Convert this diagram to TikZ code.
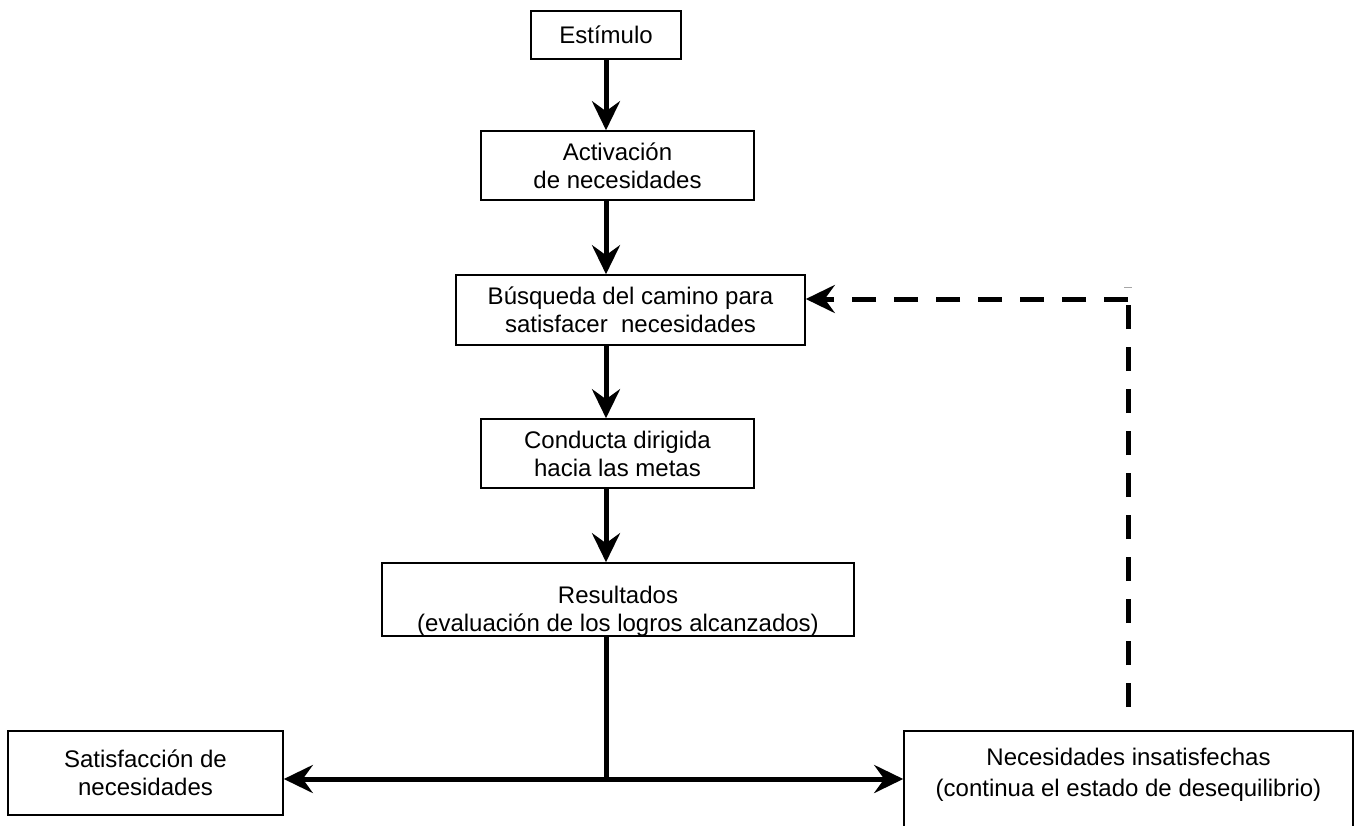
\documentclass[tikz,border=0pt]{standalone}
\usepackage{fontspec}
\setmainfont{Liberation Sans}
\usetikzlibrary{arrows.meta}
\begin{document}
\begin{tikzpicture}[x=1pt,y=-1pt,
  box/.style={draw, line width=1.6pt, inner sep=0pt, align=center, font=\fontsize{24}{28}\selectfont},
  txt/.style={inner sep=0pt, anchor=base, font=\fontsize{24}{28}\selectfont},
  arr/.style={line width=5pt, -{Stealth[length=29pt,width=28pt,inset=10pt]}},
  dsh/.style={line width=5pt, dash pattern=on 24pt off 18pt}]
\useasboundingbox (0,0) rectangle (1354,825);
\clip (0,0) rectangle (1354,825);

\node[box, minimum width=150pt, minimum height=48pt] (estim) at (606,35) {Estímulo};
\node[box, minimum width=273pt, minimum height=69pt] (activ) at (617.5,165.5) {Activación\\de necesidades};
\node[box, minimum width=349pt, minimum height=70pt] (busq) at (630.5,310) {Búsqueda del camino para\\satisfacer\ \ necesidades};
\node[box, minimum width=273pt, minimum height=69pt] (cond) at (617.5,453.5) {Conducta dirigida\\hacia las metas};
\node[box, minimum width=472pt, minimum height=73pt] (result) at (618,599.5) {};
\node[box, minimum width=275pt, minimum height=84pt] (satis) at (145.5,773) {Satisfacción de\\necesidades};
\node[box, minimum width=449pt, minimum height=119pt] (necs) at (1128.5,790.5) {};

\begin{scope}
\clip (result.north west) rectangle (result.south east);
\node[txt] (resl1) at (618,603) {Resultados};
\node[txt] (resl2) at (618,631) {(evaluación de los logros alcanzados)};
\end{scope}
\node[txt] (necl1) at (1128.5,765) {Necesidades insatisfechas};
\node[txt] (necl2) at (1128.5,796) {(continua el estado de desequilibrio)};

\draw[arr] (estim.south) -- (estim.south |- activ.north);
\draw[arr] (estim.south |- activ.south) -- (estim.south |- busq.north);
\draw[arr] (estim.south |- busq.south) -- (estim.south |- cond.north);
\draw[arr] (estim.south |- cond.south) -- (estim.south |- result.north);
\coordinate (junc) at (606,779);
\draw[line width=5pt] (estim.south |- result.south) -- (junc);
\draw[arr] (junc) -- (junc -| satis.east);
\draw[arr] (junc) -- (junc -| necs.west);

\coordinate (dend) at (1128,707);
\coordinate (corner) at (1128,299);
\draw[dsh] (dend) -- (corner);
\draw[dsh, arr] (corner) -- (corner -| busq.east);
\draw[gray!70, line width=1pt] (1124,287) -- (1132,287);
\end{tikzpicture}
\end{document}
